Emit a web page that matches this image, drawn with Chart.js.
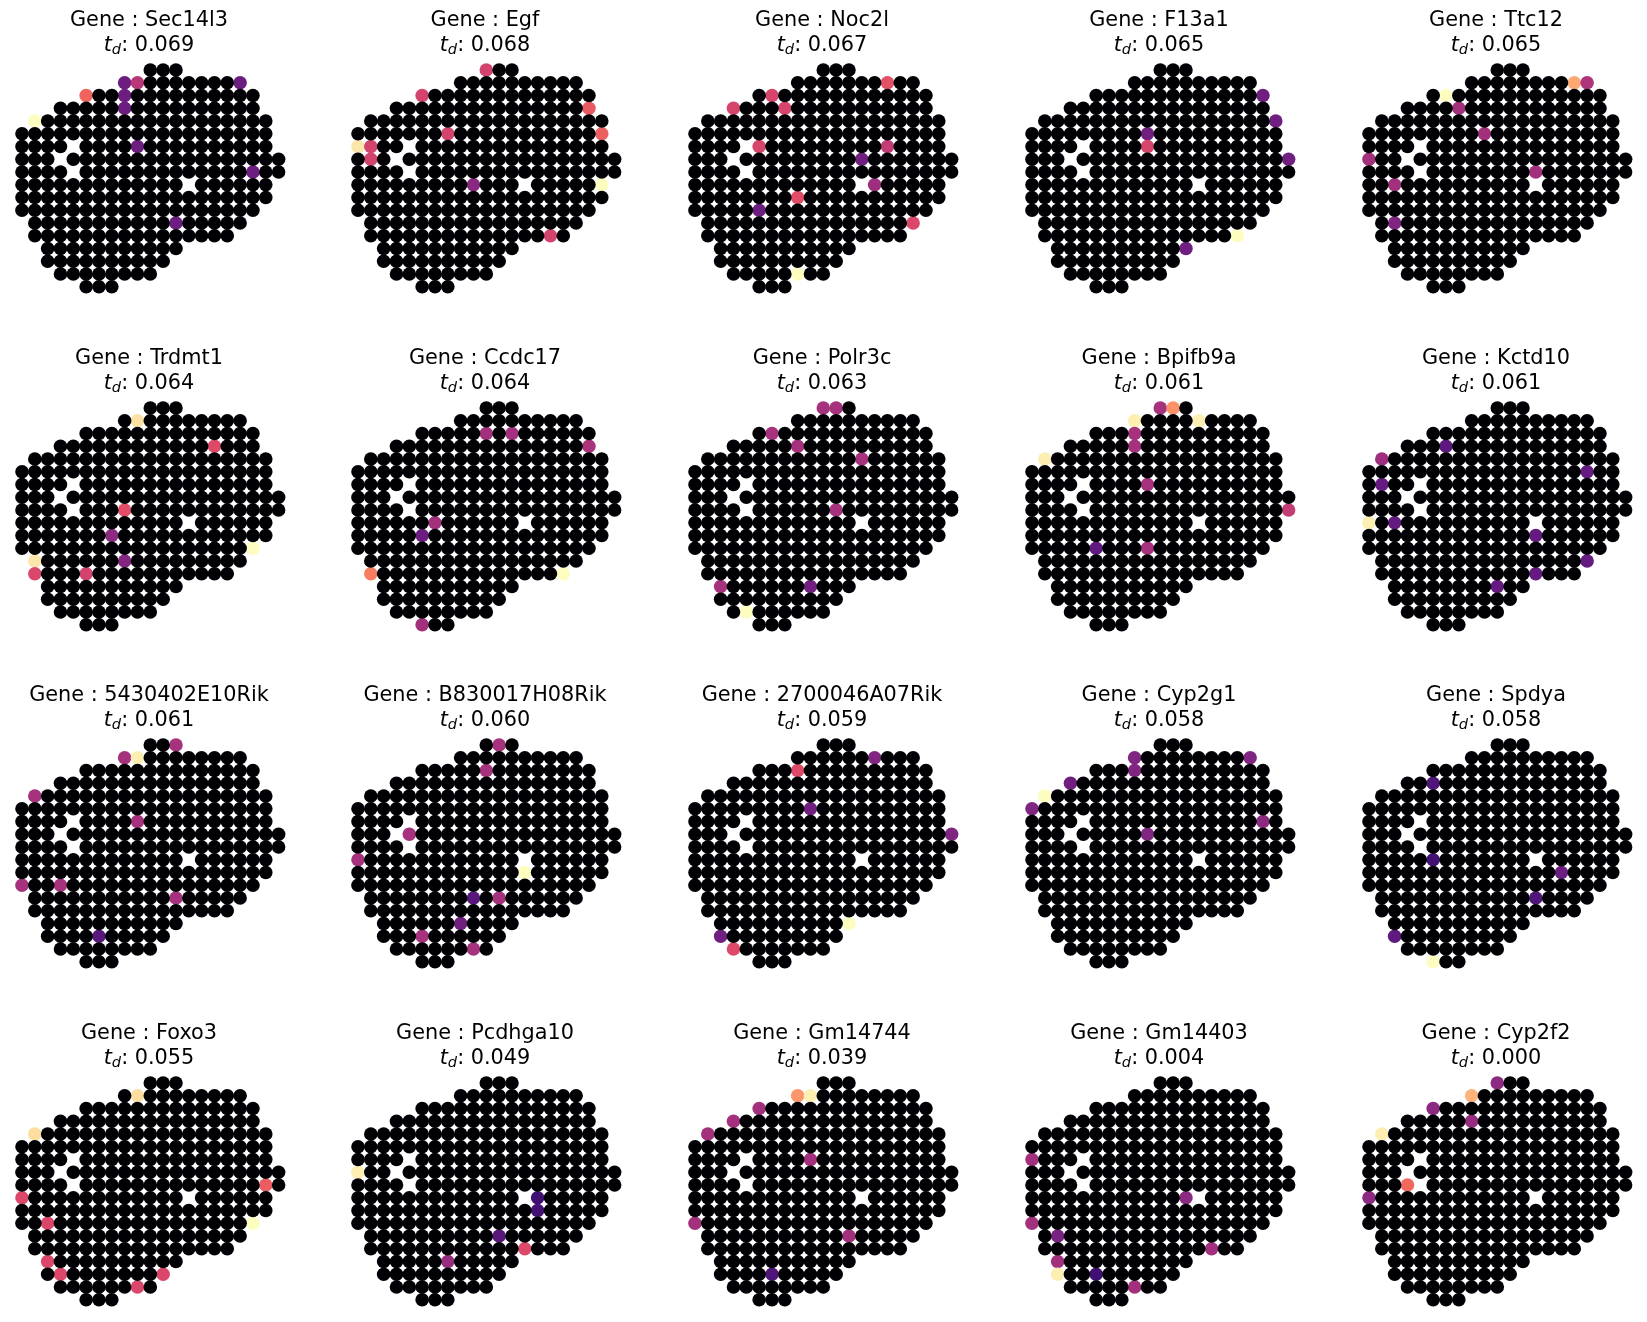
<!DOCTYPE html>
<html><head><meta charset="utf-8">
<script src="https://cdn.jsdelivr.net/npm/chart.js@4.4.0/dist/chart.umd.min.js"></script>
<style>
html,body{margin:0;padding:0;background:#fff;width:1647px;height:1322px;overflow:hidden;position:relative;}
canvas{position:absolute;}
</style></head><body>
<script>
// ---------- DATA ----------
const genes = ['Sec14l3','Egf','Noc2l','F13a1','Ttc12',
  'Trdmt1','Ccdc17','Polr3c','Bpifb9a','Kctd10',
  '5430402E10Rik','B830017H08Rik','2700046A07Rik','Cyp2g1','Spdya',
  'Foxo3','Pcdhga10','Gm14744','Gm14403','Cyp2f2'];
const tdValues = ['0.069','0.068','0.067','0.065','0.065',
  '0.064','0.064','0.063','0.061','0.061',
  '0.061','0.060','0.059','0.058','0.058',
  '0.055','0.049','0.039','0.004','0.000'];

// tissue spot layout: for each array row, first and last occupied column
const rowFirstCol = [10, 8, 5, 3, 1, 0, 0, 0, 0, 0, 0, 0, 1, 1, 2, 2, 3, 5];
const rowLastCol  = [12,17,18,18,19,19,19,20,20,19,19,18,17,16,12,11,10, 7];
const missingSpots = [[4,6],[3,7],[4,8],[13,9]];

// expressed spots per gene: [column, row, normalised expression]
const spotsSec14l3 = [[8,1,0.32],[9,1,0.5],[17,1,0.32],[5,2,0.67],[8,2,0.32],[8,3,0.32],[1,4,1.0],[9,6,0.32],[18,8,0.32],[12,12,0.32]];
const spotsEgf = [[10,0,0.57],[5,2,0.57],[18,3,0.64],[7,5,0.57],[19,5,0.66],[0,6,0.95],[1,6,0.57],[1,7,0.57],[9,9,0.39],[19,9,1.0],[15,13,0.57]];
const spotsNoc2l = [[15,1,0.62],[6,2,0.58],[3,3,0.58],[7,3,0.58],[5,6,0.58],[15,6,0.53],[13,7,0.33],[14,9,0.44],[8,10,0.61],[5,11,0.32],[17,12,0.59],[8,16,1.0]];
const spotsF13a1 = [[18,2,0.33],[19,4,0.33],[9,5,0.33],[9,6,0.58],[20,7,0.33],[16,13,1.0],[12,14,0.33]];
const spotsTtc12 = [[16,1,0.82],[17,1,0.48],[6,2,1.0],[7,3,0.45],[9,5,0.45],[0,7,0.45],[13,8,0.45],[2,9,0.45],[2,12,0.37]];
const spotsTrdmt1 = [[9,1,0.94],[15,3,0.6],[8,8,0.61],[7,10,0.4],[8,12,0.38],[18,11,1.0],[1,12,0.95],[1,13,0.59],[5,13,0.57]];
const spotsCcdc17 = [[10,2,0.45],[12,2,0.45],[18,3,0.47],[6,9,0.45],[5,10,0.32],[1,13,0.73],[16,13,1.0],[5,17,0.45]];
const spotsPolr3c = [[10,0,0.46],[11,0,0.46],[6,2,0.46],[8,3,0.46],[13,4,0.46],[11,8,0.46],[2,14,0.46],[9,14,0.33],[4,16,1.0]];
const spotsBpifb9a = [[10,0,0.46],[11,0,0.77],[8,1,0.97],[13,1,0.97],[8,2,0.46],[8,3,0.46],[1,4,0.97],[9,6,0.46],[20,8,0.53],[5,11,0.29],[9,11,0.46]];
const spotsKctd10 = [[6,3,0.28],[1,4,0.44],[17,5,0.3],[1,6,0.3],[0,9,0.97],[2,9,0.3],[13,10,0.3],[17,12,0.3],[13,13,0.3],[10,14,0.3]];
const spots5430402E10Rik = [[12,0,0.46],[8,1,0.46],[9,1,0.97],[1,4,0.46],[9,6,0.46],[0,11,0.46],[3,11,0.46],[12,12,0.46],[6,15,0.27]];
const spotsB830017H08Rik = [[11,0,0.46],[10,2,0.46],[4,7,0.46],[0,9,0.46],[13,10,1.0],[9,12,0.27],[11,12,0.46],[8,14,0.33],[5,15,0.46],[9,16,0.46]];
const spots2700046A07Rik = [[14,1,0.37],[8,2,0.6],[9,5,0.33],[20,7,0.37],[12,14,1.0],[2,15,0.33],[3,16,0.6]];
const spotsCyp2g1 = [[8,1,0.37],[17,1,0.37],[8,2,0.37],[3,3,0.33],[1,4,1.0],[0,5,0.37],[18,6,0.4],[9,7,0.37]];
const spotsSpdya = [[5,3,0.25],[5,9,0.22],[15,10,0.32],[13,12,0.25],[2,15,0.29],[5,17,1.0]];
const spotsFoxo3 = [[9,1,0.93],[1,4,0.93],[19,8,0.65],[0,9,0.59],[2,11,0.59],[18,11,1.0],[2,14,0.59],[3,15,0.59],[11,15,0.59],[9,16,0.59]];
const spotsPcdhga10 = [[0,7,0.97],[14,9,0.21],[14,10,0.22],[11,12,0.27],[13,13,0.6],[7,14,0.42]];
const spotsGm14744 = [[8,1,0.78],[9,1,0.97],[5,2,0.45],[3,3,0.45],[1,4,0.45],[9,6,0.45],[0,11,0.45],[12,12,0.45],[6,15,0.25]];
const spotsGm14403 = [[0,6,0.45],[12,9,0.4],[0,11,0.45],[2,12,0.35],[14,13,0.45],[2,14,0.45],[2,15,0.97],[5,15,0.21],[8,16,0.45]];
const spotsCyp2f2 = [[10,0,0.4],[8,1,0.84],[5,2,0.4],[8,3,0.42],[1,4,0.97],[3,8,0.68],[0,9,0.4]];

const geneSpots = [spotsSec14l3, spotsEgf, spotsNoc2l, spotsF13a1, spotsTtc12,
  spotsTrdmt1, spotsCcdc17, spotsPolr3c, spotsBpifb9a, spotsKctd10,
  spots5430402E10Rik, spotsB830017H08Rik, spots2700046A07Rik, spotsCyp2g1, spotsSpdya,
  spotsFoxo3, spotsPcdhga10, spotsGm14744, spotsGm14403, spotsCyp2f2];

// ---------- COLOUR MAP (magma) ----------
const magmaStops = ['#000004','#140e36','#3b0f70','#641a80','#8c2981','#b73779',
                    '#de4968','#f7705c','#fe9f6d','#fecf92','#fcfdbf'];
function hexToRgb(h){return [parseInt(h.slice(1,3),16),parseInt(h.slice(3,5),16),parseInt(h.slice(5,7),16)];}
function magma(v){
  v = Math.max(0, Math.min(1, v));
  const p = v * (magmaStops.length - 1);
  const i = Math.min(Math.floor(p), magmaStops.length - 2);
  const t = p - i;
  const a = hexToRgb(magmaStops[i]), b = hexToRgb(magmaStops[i+1]);
  const c = a.map((x, k) => Math.round(x + (b[k] - x) * t));
  return 'rgb(' + c.join(',') + ')';
}

// ---------- LAYOUT ----------
const DX = 12.83, DY = 12.75;          // pixels per array step
const PANEL_W = 300, PANEL_H = 300;
const PAD_L = 20, PAD_T = 55, ROW0 = 70;
const FIRST_C0 = 21.7, COL_STEP = 336.7, ROW_STEP = 337.5;
const TITLE_CX = PAD_L + 127;

const missingKey = new Set(missingSpots.map(s => s[0] + ',' + s[1]));
const baseSpots = [];
for (let r = 0; r < rowFirstCol.length; r++) {
  for (let c = rowFirstCol[r]; c <= rowLastCol[r]; c++) {
    if (!missingKey.has(c + ',' + r)) baseSpots.push({x: c, y: r});
  }
}

const titlePlugin = {
  id: 'geneTitle',
  afterDraw(chart, args, opts) {
    const ctx = chart.ctx;
    ctx.save();
    ctx.fillStyle = '#000';
    ctx.textBaseline = 'alphabetic';
    const cx = opts.cx;
    const fR = '20.8px "DejaVu Sans"';
    const fT = 'italic 20.8px "DejaVu Sans"';
    const fD = 'italic 14.6px "DejaVu Sans"';
    ctx.font = fR; ctx.textAlign = 'center';
    ctx.fillText('Gene : ' + opts.gene, cx, 26.3);
    const rest = ': ' + opts.td;
    ctx.font = fT; const wt = ctx.measureText('t').width;
    ctx.font = fD; const wd = ctx.measureText('d').width;
    ctx.font = fR; const wr = ctx.measureText(rest).width;
    let x = cx - (wt + wd + wr) / 2;
    ctx.textAlign = 'left';
    ctx.font = fT; ctx.fillText('t', x, 50.5); x += wt;
    ctx.font = fD; ctx.fillText('d', x, 54.3); x += wd;
    ctx.font = fR; ctx.fillText(rest, x, 50.5);
    ctx.restore();
  }
};

genes.forEach((gene, i) => {
  const k = i % 5, j = Math.floor(i / 5);
  const cv = document.createElement('canvas');
  cv.width = PANEL_W; cv.height = PANEL_H;
  cv.style.left = Math.round(FIRST_C0 + COL_STEP * k - PAD_L) + 'px';
  cv.style.top = Math.round(ROW_STEP * j) + 'px';
  cv.style.width = PANEL_W + 'px'; cv.style.height = PANEL_H + 'px';
  document.body.appendChild(cv);

  const hot = geneSpots[i];
  const hotKey = new Set(hot.map(s => s[0] + ',' + s[1]));
  const blackPts = baseSpots.filter(p => !hotKey.has(p.x + ',' + p.y));
  const hotPts = hot.map(s => ({x: s[0], y: s[1]}));
  const hotCols = hot.map(s => magma(s[2]));

  new Chart(cv, {
    type: 'scatter',
    data: {
      datasets: [
        {data: blackPts, backgroundColor: magma(0), borderWidth: 0, pointRadius: 6.8, pointHoverRadius: 6.8, clip: false},
        {data: hotPts, backgroundColor: hotCols, borderWidth: 0, pointRadius: 6.8, pointHoverRadius: 6.8, clip: false}
      ]
    },
    options: {
      responsive: false,
      animation: false,
      devicePixelRatio: 1,
      events: [],
      layout: {autoPadding: false, padding: {top: PAD_T, left: 0, right: 0, bottom: 0}},
      plugins: {
        legend: {display: false},
        tooltip: {enabled: false},
        geneTitle: {gene: gene, td: tdValues[i], cx: TITLE_CX}
      },
      scales: {
        x: {type: 'linear', display: false, min: -PAD_L / DX, max: (PANEL_W - PAD_L) / DX},
        y: {type: 'linear', display: false, reverse: true,
            min: -(ROW0 - PAD_T) / DY, max: -(ROW0 - PAD_T) / DY + (PANEL_H - PAD_T) / DY}
      }
    },
    plugins: [titlePlugin]
  });
});
</script>
</body></html>
